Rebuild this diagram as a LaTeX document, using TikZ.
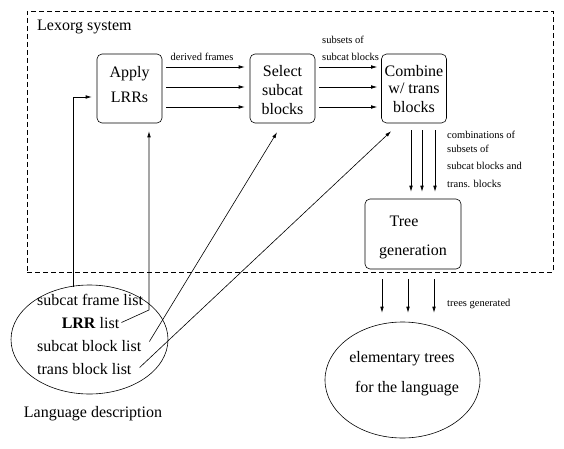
\documentclass[tikz,border=0pt]{standalone}
\usepackage{fontspec}
\setmainfont{Liberation Serif}
\usetikzlibrary{arrows.meta,shapes.geometric}
\begin{document}
\begin{tikzpicture}[x=1pt,y=-1pt,
  big/.style={font=\fontsize{16}{18}\selectfont, inner sep=0pt},
  small/.style={font=\fontsize{10.5}{12}\selectfont, inner sep=0pt},
  procbox/.style={draw, rounded corners=5pt, line width=0.6pt, inner sep=0pt, minimum width=65pt, minimum height=69pt},
  arr/.style={-{Latex[length=6pt,width=3.6pt]}, line width=0.6pt},
  oval/.style={draw, ellipse, line width=0.6pt, inner sep=0pt}]
\useasboundingbox (0,0) rectangle (564,449);
% system frame
\node[draw, dash pattern=on 5pt off 3pt, line width=0.6pt, minimum width=526pt, minimum height=261pt, inner sep=0pt] (sys) at (290,141.5) {};
\node[big, anchor=base west] (syslbl) at (37,31) {Lexorg system};
% boxes
\node[procbox] (apply) at (129.5,88.5) {};
\node[big, anchor=base] (applyA) at (129.5,78) {Apply};
\node[big, anchor=base] (applyB) at (129.5,103) {LRRs};
\node[procbox] (select) at (282.5,88.5) {};
\node[big, anchor=base] (selA) at (282.5,77) {Select};
\node[big, anchor=base] (selB) at (282.5,96) {subcat};
\node[big, anchor=base] (selC) at (282.5,115) {blocks};
\node[procbox] (combine) at (414,88.5) {};
\node[big, anchor=base] (comA) at (414,77) {Combine};
\node[big, anchor=base] (comB) at (414,94) {w/ trans};
\node[big, anchor=base] (comC) at (414,113) {blocks};
\node[procbox, minimum width=96pt, minimum height=70pt] (tree) at (413,234) {};
\node[big, anchor=base] (treeA) at (404,226) {Tree};
\node[big, anchor=base] (treeB) at (413,255) {generation};
% small labels
\node[small, anchor=base] (lblderiv) at (202,61) {derived frames};
\node[small, anchor=base west] (lblsub1) at (322,43.5) {subsets of};
\node[small, anchor=base west] (lblsub2) at (322,61) {subcat blocks};
\node[small, anchor=base west] (lblcomb1) at (447,139) {combinations of};
\node[small, anchor=base west] (lblcomb2) at (447,153) {subsets of};
\node[small, anchor=base west] (lblcomb3) at (447,169) {subcat blocks and};
\node[small, anchor=base west] (lblcomb4) at (447,187) {trans. blocks};
\node[small, anchor=base west] (lbltrees) at (447,306) {trees generated};
% language description
\node[oval, minimum width=157pt, minimum height=109pt] (lang) at (89.5,339.5) {};
\node[big, anchor=base west] (sfl) at (37,305.5) {subcat frame list};
\node[big, anchor=base] (lrr) at (90.5,328) {\textbf{LRR} list};
\node[big, anchor=base west] (sbl) at (37,351) {subcat block list};
\node[big, anchor=base west] (tbl) at (37,374) {trans block list};
\node[big, anchor=base] (langlbl) at (93,417) {Language description};
% elementary trees
\node[oval, minimum width=155pt, minimum height=116pt] (elem) at (402.5,380) {};
\node[big, anchor=base] (elemA) at (402,362) {elementary trees};
\node[big, anchor=base] (elemB) at (407,392) {for the language};
% connectors between boxes
\foreach \dy in {21.5,1.5,-18.5}
  \draw[arr, shorten <=4pt, shorten >=5pt] ([yshift=\dy pt]apply.east) -- ([yshift=\dy pt]select.west);
\foreach \dy in {21.5,1.5,-18.5}
  \draw[arr, shorten <=4pt, shorten >=4pt] ([yshift=\dy pt]select.east) -- ([yshift=\dy pt]combine.west);
\foreach \dx [count=\i] in {-3,8,21} {
  \coordinate (ct\i) at ([xshift=\dx pt]combine.south);
  \draw[arr, shorten <=7pt, shorten >=7pt] (ct\i) -- (ct\i |- tree.north);
}
\foreach \dx [count=\i] in {-31,-5,21} {
  \coordinate (tb\i) at ([xshift=\dx pt]tree.south);
  \draw[arr, shorten <=10pt, shorten >=9pt] (tb\i) -- (tb\i |- elem.north);
}
% connectors from language description
\coordinate (c1) at (73,287);
\draw[arr, shorten >=5pt] (c1) |- ([yshift=-8.5pt]apply.west);
\coordinate (c2) at (149,310);
\draw[arr, shorten >=8pt] ([xshift=2pt]lrr.east) -- (c2) -- (c2 |- apply.south);
\draw[arr, shorten >=10.5pt] ([xshift=8pt,yshift=4pt]sbl.east) -- (select.south);
\draw[arr, shorten >=11.6pt] ([xshift=8pt,yshift=1pt]tbl.east) -- ([xshift=-14.5pt]combine.south);
\end{tikzpicture}
\end{document}
